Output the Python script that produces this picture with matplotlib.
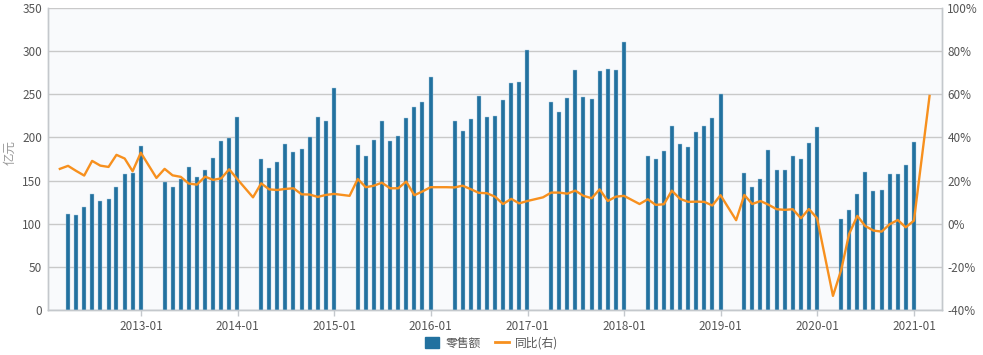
import numpy as np
import pandas as pd
import matplotlib.pyplot as plt
import matplotlib.dates as mdates
from matplotlib.patches import Patch
from matplotlib.lines import Line2D

plt.rcParams['font.family'] = ['Noto Sans CJK SC', 'DejaVu Sans']

years = [2012, 2013, 2014, 2015, 2016, 2017, 2018, 2019, 2020]

# retail sales, Mar..Dec of each year (亿元)
sales = {
    2012: [111.2, 110.1, 119.4, 134.4, 125.9, 129.0, 142.9, 158.0, 158.7, 189.6],
    2013: [147.9, 142.9, 152.2, 166.1, 154.5, 161.8, 175.7, 195.8, 198.9, 223.3],
    2014: [174.6, 164.9, 171.1, 192.3, 183.1, 186.2, 200.8, 223.3, 218.6, 256.9],
    2015: [191.2, 178.8, 196.6, 218.6, 195.4, 202.0, 222.9, 235.6, 240.6, 269.6],
    2016: [218.6, 207.0, 221.3, 248.4, 224.0, 225.2, 243.3, 263.0, 264.2, 301.3],
    2017: [241.0, 229.4, 245.3, 278.1, 247.2, 244.1, 276.9, 278.9, 277.7, 310.9],
    2018: [178.8, 174.6, 183.9, 213.6, 192.3, 188.5, 205.9, 213.6, 222.1, 250.3],
    2019: [158.4, 142.9, 151.8, 185.0, 162.6, 161.8, 178.8, 175.4, 193.1, 212.4],
    2020: [105.8, 116.3, 134.4, 159.5, 137.5, 139.4, 157.6, 157.6, 168.0, 194.7],
}

# year-on-year growth, Feb..Dec of each year (%)
yoy = {
    2012: [25.4, 26.8, 24.5, 22.3, 29.1, 26.9, 26.3, 31.9, 30.2, 24.3, 32.9],
    2013: [21.2, 25.4, 22.4, 21.7, 18.6, 18.1, 21.8, 20.3, 21.0, 25.2, 20.6],
    2014: [12.2, 18.7, 15.9, 15.6, 16.1, 16.4, 13.6, 13.5, 12.4, 13.3, 13.8],
    2015: [12.9, 20.7, 16.9, 17.6, 19.0, 16.4, 16.4, 19.5, 13.2, 14.9, 16.9],
    2016: [16.9, 16.8, 17.6, 16.0, 14.3, 14.1, 12.5, 9.1, 11.5, 9.4, 10.5],
    2017: [12.2, 14.4, 14.4, 13.9, 15.3, 12.9, 11.8, 15.9, 10.5, 12.5, 12.9],
    2018: [9.1, 11.3, 8.7, 9.0, 15.3, 11.5, 10.1, 10.2, 10.1, 8.4, 13.2],
    2019: [1.6, 13.3, 9.1, 10.5, 8.8, 6.7, 6.4, 6.7, 2.5, 6.8, 2.5],
    2020: [-33.5, -21.5, -4.8, 3.6, -1.1, -3.2, -3.7, -0.3, 1.7, -1.7, 1.4],
}
yoy_2021 = [59.2]  # Feb 2021

bar_dates, bar_vals, line_dates, line_vals = [], [], [], []
for y in years:
    bar_dates += list(pd.date_range(f'{y}-03-01', periods=10, freq='ME'))
    bar_vals += sales[y]
    line_dates += list(pd.date_range(f'{y}-02-01', periods=11, freq='ME'))
    line_vals += yoy[y]
line_dates += list(pd.date_range('2021-02-01', periods=1, freq='ME'))
line_vals += yoy_2021

bar_color = '#22719f'
line_color = '#f7901e'
grid_color = '#c9c9c9'
text_color = '#555555'

fig = plt.figure(figsize=(9.83, 3.55), dpi=100, facecolor='white')
ax = fig.add_axes([0.0485, 0.127, 0.9095, 0.8505])
ax.set_facecolor('#f9fafc')

ax.bar(bar_dates, bar_vals, width=15, color=bar_color, edgecolor='#a9cbe0',
       linewidth=0.3, zorder=3)
ax.set_ylim(0, 350)
ax.set_yticks(np.arange(0, 351, 50))
ax.set_xlim(pd.Timestamp('2012-01-14'), pd.Timestamp('2021-04-15'))
ax.grid(axis='y', color=grid_color, linewidth=1, zorder=0)
ax.set_axisbelow(True)

ax2 = ax.twinx()
ax2.plot(line_dates, line_vals, color=line_color, linewidth=1.7, zorder=4)
ax2.set_ylim(-40, 100)
ax2.set_yticks(np.arange(-40, 101, 20))
ax2.set_yticklabels([f'{v}%' for v in range(-40, 101, 20)])

ax.xaxis.set_major_formatter(mdates.DateFormatter('%Y-%m'))
ax.set_xticks([pd.Timestamp(f'{y}-01-01') for y in range(2013, 2022)])

for a in (ax, ax2):
    for s in a.spines.values():
        s.set_color('#c4c8cc')
        s.set_linewidth(1)
    a.spines['top'].set_visible(False)
    a.tick_params(axis='y', length=0, labelsize=8.5, colors=text_color, pad=4)
ax.tick_params(axis='x', length=4, width=1, color='#c4c8cc', labelsize=8.5,
               labelcolor=text_color, pad=3)

ax.set_ylabel('亿元', color='#9a9a9a', fontsize=9, labelpad=6)
ax.yaxis.set_label_coords(-0.035, 0.52)

handles = [Patch(facecolor=bar_color, edgecolor=bar_color),
           Line2D([0], [0], color=line_color, linewidth=2)]
fig.legend(handles, ['零售额', '同比(右)'], loc='lower center',
           bbox_to_anchor=(0.5, -0.015), ncol=2, frameon=False,
           fontsize=8.5, handlelength=1.2, handleheight=1.0,
           columnspacing=1.2, handletextpad=0.5, labelcolor=text_color)

fig.savefig('out.png', dpi=100)
